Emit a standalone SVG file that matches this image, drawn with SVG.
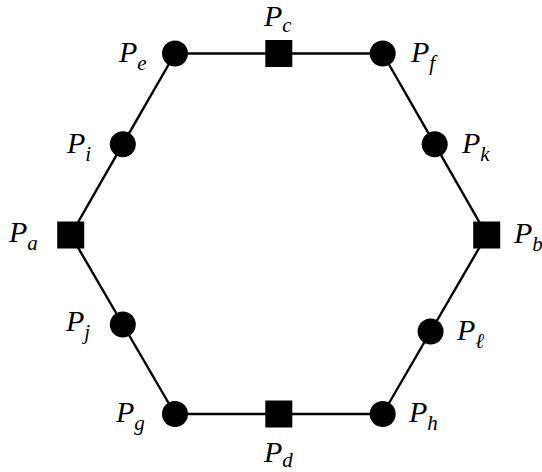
<svg xmlns="http://www.w3.org/2000/svg" width="542" height="472" viewBox="0 0 542 472">
<style>
.e{stroke:#000;stroke-width:2.4;fill:none}
.c{fill:#000}
.s{fill:#000}
text{font-family:'Liberation Serif','DejaVu Serif',serif;font-style:italic;font-size:30px;fill:#000}
.sub{font-size:21px}
</style>
<rect width="542" height="472" fill="#fff"/>
<g id="connectors">
<line class="e" x1="175" y1="53.5" x2="278.8" y2="53.5"/>
<line class="e" x1="278.8" y1="53.5" x2="382.7" y2="53.5"/>
<line class="e" x1="382.7" y1="53.5" x2="434.7" y2="144.2"/>
<line class="e" x1="434.7" y1="144.2" x2="486.7" y2="235"/>
<line class="e" x1="486.7" y1="235" x2="430.6" y2="331.5"/>
<line class="e" x1="430.6" y1="331.5" x2="382.7" y2="414"/>
<line class="e" x1="382.7" y1="414" x2="278.8" y2="414"/>
<line class="e" x1="278.8" y1="414" x2="175" y2="414"/>
<line class="e" x1="175" y1="414" x2="122.8" y2="324.5"/>
<line class="e" x1="122.8" y1="324.5" x2="70.7" y2="235"/>
<line class="e" x1="70.7" y1="235" x2="122.8" y2="144.2"/>
<line class="e" x1="122.8" y1="144.2" x2="175" y2="53.5"/>
</g>
<g id="Pa"><rect class="s" x="57.2" y="221.5" width="27" height="27"/><text x="9" y="242">P<tspan class="sub" dy="8">a</tspan></text></g>
<g id="Pb"><rect class="s" x="473.2" y="221.5" width="27" height="27"/><text x="514" y="243">P<tspan class="sub" dy="8">b</tspan></text></g>
<g id="Pc"><rect class="s" x="265.3" y="40" width="27" height="27"/><text x="264" y="26">P<tspan class="sub" dy="6">c</tspan></text></g>
<g id="Pd"><rect class="s" x="265.3" y="400.5" width="27" height="27"/><text x="264" y="462">P<tspan class="sub" dy="5">d</tspan></text></g>
<g id="Pe"><circle class="c" cx="175" cy="53.5" r="13"/><text x="119" y="62">P<tspan class="sub" dy="8">e</tspan></text></g>
<g id="Pf"><circle class="c" cx="382.7" cy="53.5" r="13"/><text x="411" y="62">P<tspan class="sub" dy="8">f</tspan></text></g>
<g id="Pg"><circle class="c" cx="175" cy="414" r="13"/><text x="116" y="422">P<tspan class="sub" dy="8">g</tspan></text></g>
<g id="Ph"><circle class="c" cx="382.7" cy="414" r="13"/><text x="409" y="422">P<tspan class="sub" dy="8">h</tspan></text></g>
<g id="Pi"><circle class="c" cx="122.8" cy="144.2" r="13"/><text x="67" y="153">P<tspan class="sub" dy="8">i</tspan></text></g>
<g id="Pj"><circle class="c" cx="122.8" cy="324.5" r="13"/><text x="66" y="331">P<tspan class="sub" dy="8">j</tspan></text></g>
<g id="Pk"><circle class="c" cx="434.7" cy="144.2" r="13"/><text x="462" y="153">P<tspan class="sub" dy="8">k</tspan></text></g>
<g id="Pl"><circle class="c" cx="430.6" cy="331.5" r="13"/><text x="457" y="340">P<tspan class="sub" dy="8">ℓ</tspan></text></g>
</svg>
